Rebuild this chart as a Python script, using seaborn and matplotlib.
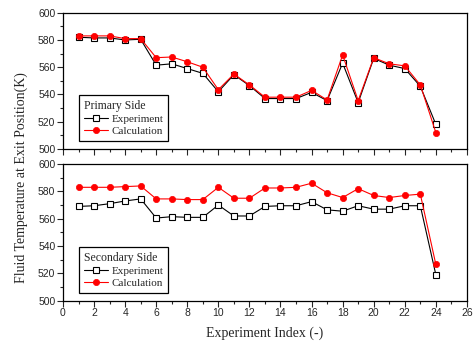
import numpy as np
import pandas as pd
import seaborn as sns
import matplotlib.pyplot as plt
import matplotlib.ticker as ticker

idx = list(range(1, 25))
primary_exp = [582, 581.5, 581.5, 580, 580.5, 561.5, 562.5, 559, 555.5, 542, 554.5, 546.5,
               537, 537, 537, 541.5, 535.5, 563, 534, 566.5, 561.5, 559, 546, 518]
primary_calc = [583, 583, 583, 581, 581, 567, 567.5, 564, 560, 543.5, 555, 547,
                538, 538, 538, 543, 536, 569, 535.5, 567, 562.5, 561, 547, 512]
secondary_exp = [569, 569.5, 571, 573, 574.5, 560.5, 561.5, 561, 561, 570, 562, 562,
                 569, 569.5, 569.5, 572.5, 566.5, 565.5, 569.5, 567, 567, 569.5, 569.5, 519]
secondary_calc = [583, 583, 583, 583.5, 584, 574.5, 574.5, 574, 574, 583, 575, 575,
                  582.5, 582.5, 583, 586, 579, 575.5, 582, 577, 575.5, 577, 578, 526.5]

df = pd.DataFrame({"idx": idx, "p_exp": primary_exp, "p_calc": primary_calc,
                   "s_exp": secondary_exp, "s_calc": secondary_calc})

sns.set_style("ticks")
plt.rcParams['font.family'] = ['Liberation Sans', 'DejaVu Sans']
serif = ['Liberation Serif', 'DejaVu Serif']

fig = plt.figure(figsize=(4.75, 3.44), dpi=100)
ax1 = fig.add_axes([0.1326, 0.567, 0.8504, 0.396])
ax2 = fig.add_axes([0.1326, 0.126, 0.8504, 0.397])

panels = [(ax1, "p_exp", "p_calc", "Primary Side"),
          (ax2, "s_exp", "s_calc", "Secondary Side")]

for ax, ecol, ccol, title in panels:
    sns.lineplot(data=df, x="idx", y=ecol, ax=ax, color="black", lw=0.8,
                 marker="s", markersize=4.8, markerfacecolor="white",
                 markeredgecolor="black", markeredgewidth=0.8, label="Experiment")
    sns.lineplot(data=df, x="idx", y=ccol, ax=ax, color="red", lw=0.8,
                 marker="o", markersize=4.5, markerfacecolor="red",
                 markeredgecolor="red", markeredgewidth=0.5, label="Calculation")
    ax.set_xlim(0, 26)
    ax.set_ylim(500, 600)
    ax.xaxis.set_major_locator(ticker.MultipleLocator(2))
    ax.xaxis.set_minor_locator(ticker.MultipleLocator(1))
    ax.yaxis.set_major_locator(ticker.MultipleLocator(20))
    ax.yaxis.set_minor_locator(ticker.MultipleLocator(10))
    ax.tick_params(which="major", length=4, width=0.8, labelsize=7.5, pad=1.5)
    ax.tick_params(which="minor", length=2.5, width=0.8)
    for s in ax.spines.values():
        s.set_visible(True)
        s.set_linewidth(0.9)
        s.set_color("black")
    ax.set_xlabel("")
    ax.set_ylabel("")
    leg = ax.legend(loc="lower left", title=title, frameon=True, fancybox=False,
                    edgecolor="black", framealpha=1, numpoints=1, handlelength=2.2,
                    handletextpad=0.3, borderpad=0.45, labelspacing=0.2,
                    prop={"family": serif, "size": 8}, alignment="left",
                    bbox_to_anchor=(0.025, 0.015))
    leg.get_title().set_fontfamily(serif)
    leg.get_title().set_fontsize(8.5)
    leg.get_frame().set_linewidth(0.9)

ax1.tick_params(axis="x", which="both", labelbottom=False)
ax2.set_xlabel("Experiment Index (-)", fontfamily=serif, fontsize=10, labelpad=6)
fig.text(0.045, 0.485, "Fluid Temperature at Exit Position(K)", rotation=90,
         va="center", ha="center", fontfamily=serif, fontsize=10)

fig.savefig("out.png", dpi=100)
